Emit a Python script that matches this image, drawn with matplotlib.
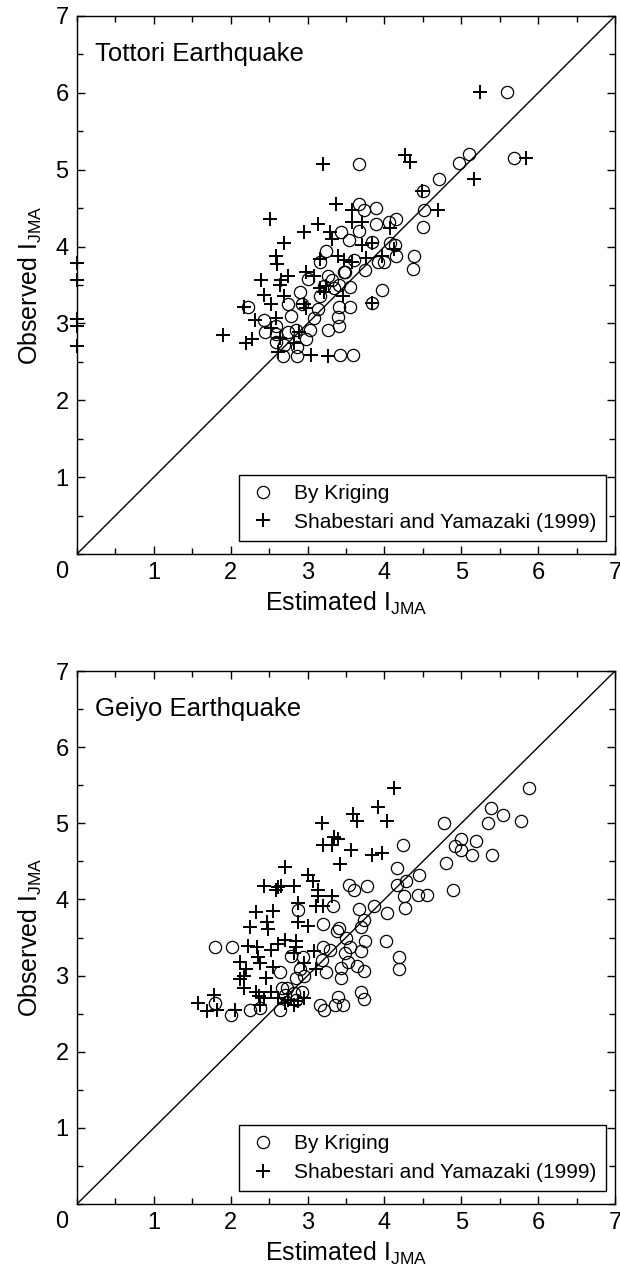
"""
Observed vs. estimated JMA seismic intensity, Tottori and Geiyo earthquakes.
Kriging estimates (open circles) against Shabestari and Yamazaki (1999) (+).
"""

import matplotlib
matplotlib.use("Agg")
import matplotlib.pyplot as plt
from matplotlib.ticker import MultipleLocator

# ── Data ──────────────────────────────────────────────────────────────────
tottori_krig_x = [5.60, 5.69, 5.10, 4.97, 4.71, 3.67, 4.50, 4.51, 4.50, 4.39,
                  4.37, 4.15, 4.06, 3.89, 3.89, 3.67, 3.73, 3.67, 3.43, 3.54,
                  4.07, 4.14, 4.15, 4.00, 3.91, 3.84, 3.97, 3.75, 3.60, 3.49,
                  3.55, 3.41, 3.55, 3.41, 3.39, 3.41, 3.27, 3.42, 3.59, 3.24,
                  3.27, 3.34, 3.32, 3.22, 3.16, 3.13, 3.08, 3.01, 3.03, 2.98,
                  2.90, 2.93, 2.85, 2.79, 2.75, 2.86, 2.86, 2.68, 2.69, 2.59,
                  2.59, 2.44, 2.43, 2.23, 2.59, 3.16, 2.74, 3.84, 3.47]
tottori_krig_y = [6.01, 5.15, 5.20, 5.09, 4.88, 5.07, 4.72, 4.48, 4.25, 3.88,
                  3.71, 4.36, 4.32, 4.50, 4.29, 4.55, 4.47, 4.20, 4.19, 4.09,
                  4.04, 4.02, 3.88, 3.80, 3.80, 4.06, 3.43, 3.70, 3.83, 3.67,
                  3.48, 3.50, 3.22, 3.21, 3.08, 2.97, 2.91, 2.59, 2.59, 3.94,
                  3.62, 3.46, 3.57, 3.49, 3.36, 3.19, 3.07, 3.58, 2.92, 2.80,
                  3.41, 3.25, 2.92, 3.10, 3.25, 2.69, 2.57, 2.57, 2.72, 2.76,
                  2.86, 2.89, 3.05, 3.21, 2.97, 3.80, 2.89, 3.26, 3.67]

tottori_sy_x = [5.24, 5.84, 5.16, 4.27, 4.33, 3.20, 4.49, 4.70, 2.51, 3.37,
                3.58, 3.58, 3.71, 3.13, 2.95, 3.29, 3.32, 4.07, 2.69, 3.71,
                3.84, 4.12, 2.59, 2.60, 3.16, 3.39, 3.47, 3.58, 3.76, 3.97,
                2.40, 2.66, 2.74, 2.64, 2.98, 3.08, 3.16, 3.24, 3.21, 2.43,
                2.69, 2.53, 2.95, 2.98, 3.46, 2.17, 2.59, 2.32, 2.53, 1.90,
                2.20, 2.28, 2.64, 2.82, 2.61, 3.04, 3.27, 2.89, 3.84,
                0.0, 0.0, 0.0, 0.0, 0.0]
tottori_sy_y = [6.01, 5.15, 4.88, 5.19, 5.10, 5.08, 4.72, 4.47, 4.36, 4.55,
                4.48, 4.32, 4.32, 4.29, 4.19, 4.19, 4.10, 4.24, 4.04, 4.02,
                4.04, 3.97, 3.88, 3.77, 3.84, 3.88, 3.83, 3.80, 3.85, 3.88,
                3.57, 3.57, 3.62, 3.50, 3.67, 3.62, 3.46, 3.49, 3.41, 3.37,
                3.36, 3.25, 3.25, 3.20, 3.36, 3.21, 3.07, 3.05, 2.94, 2.85,
                2.74, 2.80, 2.81, 2.74, 2.63, 2.59, 2.58, 2.89, 3.26,
                3.79, 3.57, 3.06, 2.97, 2.71]

geiyo_krig_x = [5.88, 5.39, 5.54, 5.35, 5.78, 4.78, 5.00, 5.19, 4.92, 4.99,
                5.14, 5.40, 4.80, 4.89, 4.24, 4.17, 4.45, 4.28, 4.17, 4.26,
                4.44, 4.55, 4.27, 4.03, 4.02, 4.19, 4.19, 3.87, 3.77, 3.67,
                3.74, 3.70, 3.75, 3.70, 3.64, 3.73, 3.70, 3.73, 3.54, 3.60,
                3.33, 3.41, 3.38, 3.50, 3.55, 3.49, 3.52, 3.44, 3.44, 3.39,
                3.46, 3.36, 3.21, 3.16, 3.20, 3.20, 3.29, 3.19, 3.24, 2.94,
                2.90, 2.85, 2.88, 2.93, 2.82, 2.73, 2.70, 2.78, 2.64, 2.64,
                2.38, 2.25, 2.00, 1.80, 2.02, 1.80, 2.85, 2.67, 2.96]
geiyo_krig_y = [5.46, 5.20, 5.11, 5.01, 5.03, 5.01, 4.79, 4.77, 4.70, 4.65,
                4.58, 4.59, 4.48, 4.12, 4.71, 4.41, 4.32, 4.24, 4.19, 4.04,
                4.06, 4.06, 3.89, 3.82, 3.46, 3.25, 3.09, 3.92, 4.17, 3.88,
                3.73, 3.64, 3.46, 3.32, 3.13, 3.06, 2.79, 2.69, 4.19, 4.12,
                3.91, 3.63, 3.58, 3.50, 3.38, 3.30, 3.18, 3.10, 2.97, 2.72,
                2.62, 2.61, 2.55, 2.62, 3.68, 3.38, 3.34, 3.21, 3.05, 3.25,
                3.08, 2.97, 3.86, 2.79, 2.77, 2.84, 2.75, 3.26, 3.05, 2.55,
                2.58, 2.55, 2.48, 3.38, 3.38, 2.64, 2.68, 2.84, 3.00]

geiyo_sy_x = [4.12, 3.91, 3.59, 3.64, 4.03, 3.19, 3.35, 3.40, 3.20, 3.32,
              3.57, 3.84, 3.97, 3.42, 2.71, 3.00, 3.07, 2.43, 2.62, 2.66,
              2.82, 2.59, 3.13, 3.13, 3.32, 2.88, 3.11, 3.20, 2.33, 2.55,
              2.47, 2.25, 2.48, 2.88, 3.00, 2.70, 2.85, 2.22, 2.34, 2.53,
              2.62, 2.82, 2.85, 3.08, 2.12, 2.35, 2.38, 2.95, 3.11, 2.20,
              2.17, 2.46, 2.55, 2.12, 2.17, 2.33, 2.52, 2.37, 2.61, 2.74,
              2.88, 2.82, 2.95, 1.58, 1.78, 1.69, 1.82, 2.06, 2.38, 2.43,
              2.70]
geiyo_sy_y = [5.46, 5.21, 5.12, 5.03, 5.03, 5.01, 4.82, 4.79, 4.71, 4.71,
              4.65, 4.58, 4.61, 4.47, 4.42, 4.32, 4.24, 4.18, 4.16, 4.17,
              4.18, 4.12, 4.12, 4.05, 4.05, 3.95, 3.91, 3.91, 3.84, 3.85,
              3.71, 3.64, 3.61, 3.71, 3.65, 3.47, 3.45, 3.39, 3.38, 3.34,
              3.42, 3.29, 3.37, 3.32, 3.18, 3.24, 3.17, 3.16, 3.08, 3.08,
              3.00, 2.97, 3.11, 2.96, 2.84, 2.79, 2.79, 2.73, 2.71, 2.68,
              2.66, 2.62, 2.70, 2.64, 2.74, 2.53, 2.55, 2.55, 2.61, 2.71,
              2.64]

PANELS = [
    ("Tottori Earthquake", tottori_krig_x, tottori_krig_y, tottori_sy_x, tottori_sy_y),
    ("Geiyo Earthquake",   geiyo_krig_x,   geiyo_krig_y,   geiyo_sy_x,   geiyo_sy_y),
]

# ── Style ──────────────────────────────────────────────────────────────────
plt.rcParams["font.family"] = ["Liberation Sans", "DejaVu Sans"]
plt.rcParams["mathtext.fontset"] = "custom"
plt.rcParams["mathtext.rm"] = "Liberation Sans"
TICK_FONT = ["Liberation Sans Narrow", "Liberation Sans"]

# axes rectangles in figure fractions (620 x 1268 px canvas)
AX_RECTS = [
    (77 / 620, 1 - 554 / 1268, 538 / 620, 538 / 1268),
    (77 / 620, 1 - 1204 / 1268, 538 / 620, 533 / 1268),
]


def draw_panel(ax, title, kx, ky, sx, sy):
    ax.plot([0, 7], [0, 7], color="black", lw=1.0, zorder=1)
    ax.plot(kx, ky, linestyle="none", marker="o", ms=8.8, mfc="none",
            mec="black", mew=0.9, label="By Kriging", zorder=3, clip_on=False)
    ax.plot(sx, sy, linestyle="none", marker="+", ms=10.5, color="black",
            mew=1.4, label="Shabestari and Yamazaki (1999)", zorder=3,
            clip_on=False)

    ax.set_xlim(0, 7)
    ax.set_ylim(0, 7)
    ax.xaxis.set_major_locator(MultipleLocator(1))
    ax.yaxis.set_major_locator(MultipleLocator(1))
    ax.xaxis.set_minor_locator(MultipleLocator(0.5))
    ax.yaxis.set_minor_locator(MultipleLocator(0.5))
    ax.tick_params(which="both", direction="in", top=True, right=True, width=1.0)
    ax.tick_params(which="major", length=6, pad=6, labelsize=17)
    ax.tick_params(which="minor", length=4)
    ticks = [1, 2, 3, 4, 5, 6, 7]
    ax.set_xticks(ticks)
    ax.set_yticks(ticks)
    ax.set_xticklabels([str(t) for t in ticks], family=TICK_FONT)
    ax.set_yticklabels([str(t) for t in ticks], family=TICK_FONT)
    # single shared "0" in the corner
    ax.annotate("0", xy=(0, 0), xycoords="axes fraction", xytext=(-15, -18),
                textcoords="offset pixels", ha="center", va="center",
                fontsize=17, family=TICK_FONT)
    for spine in ax.spines.values():
        spine.set_linewidth(1.0)

    ax.set_xlabel(r"Estimated I$_\mathrm{JMA}$", fontsize=18, labelpad=4)
    ax.set_ylabel(r"Observed I$_\mathrm{JMA}$", fontsize=18, labelpad=8)
    ax.text(0.033, 0.929, title, transform=ax.transAxes, fontsize=18.5,
            ha="left", va="center")

    leg = ax.legend(loc="lower right", bbox_to_anchor=(0.983, 0.024),
                    borderaxespad=0, fontsize=15, frameon=True, fancybox=False,
                    framealpha=1, edgecolor="black", handlelength=1.4,
                    handletextpad=0.8, labelspacing=0.45, borderpad=0.45,
                    numpoints=1)
    leg.get_frame().set_linewidth(1.0)


fig = plt.figure(figsize=(6.2, 12.68), dpi=100)
for rect, (title, kx, ky, sx, sy) in zip(AX_RECTS, PANELS):
    ax = fig.add_axes(rect)
    draw_panel(ax, title, kx, ky, sx, sy)

fig.savefig("out.png", dpi=100)
plt.close(fig)
